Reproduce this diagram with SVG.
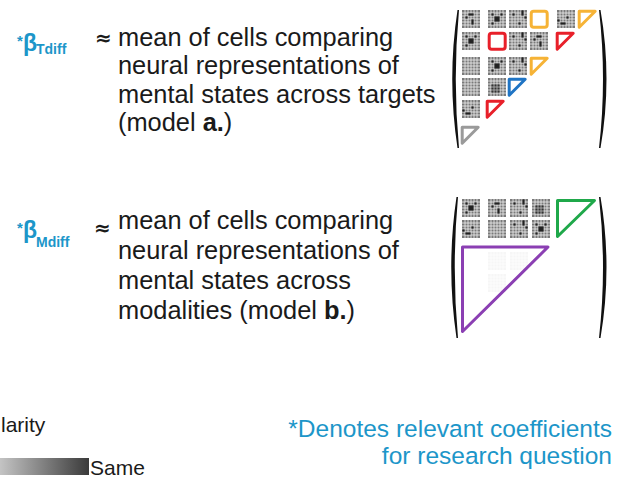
<svg xmlns="http://www.w3.org/2000/svg" xmlns:xlink="http://www.w3.org/1999/xlink" width="625" height="480" viewBox="0 0 625 480">
<style>
text{font-family:"Liberation Sans",Arial,sans-serif;}
.t{font-size:25.4px;fill:#1a1a1a;}
.teal{fill:#1c96c9;font-weight:bold;}
.approx{font-family:"DejaVu Sans",sans-serif;font-size:20px;fill:#1a1a1a;font-weight:bold;}
.note{font-size:24.5px;fill:#1c96c9;text-anchor:end;}
.o{fill:none;stroke-width:3;stroke-linejoin:round;}
.par{fill:#111;}
</style>
<defs>
<linearGradient id="grad" x1="0" x2="1" y1="0" y2="0">
<stop offset="0" stop-color="#c4c4c4"/>
<stop offset="1" stop-color="#3a3a3a"/>
</linearGradient>
<g id="gr">
<rect width="18" height="18" fill="#7a7a7a"/>
<path d="M3 0V18M6 0V18M9 0V18M12 0V18M15 0V18M0 3H18M0 6H18M0 9H18M0 12H18M0 15H18" stroke="#f0f0f0" stroke-width="0.8"/>
</g>
<g id="cA"><use href="#gr"/><g fill="#222"><rect x="6.4" y="3.4" width="5.2" height="2.2"/><rect x="3.4" y="6.4" width="2.2" height="2.2"/><rect x="9.4" y="9.4" width="2.2" height="5.2"/></g></g>
<g id="cB"><use href="#gr"/><g fill="#222"><rect x="3.4" y="3.4" width="2.2" height="2.2"/><rect x="6.4" y="6.4" width="5.2" height="5.2"/><rect x="12.4" y="3.4" width="2.2" height="2.2"/><rect x="3.4" y="12.4" width="2.2" height="2.2"/></g></g>
<g id="cC"><use href="#gr"/><g fill="#222"><rect x="12.4" y="0.4" width="2.2" height="5.2"/><rect x="9.4" y="12.4" width="2.2" height="2.2"/><rect x="15.4" y="6.4" width="2.2" height="2.2"/><rect x="3.4" y="3.4" width="2.2" height="2.2"/></g></g>
<g id="cD"><use href="#gr"/><g fill="#222"><rect x="0.4" y="9.4" width="2.2" height="2.2"/><rect x="3.4" y="12.4" width="5.2" height="2.2"/><rect x="9.4" y="6.4" width="2.2" height="2.2"/></g></g>
<g id="cE"><use href="#gr"/><g fill="#333"><rect x="3.4" y="6.4" width="8.2" height="8.2"/></g><path d="M6 6V15M9 6V15M3 9H12M3 12H12" stroke="#bbb" stroke-width="0.8"/></g>
<path id="tri" d="M0 0H16L0 16Z"/>
<rect id="sq" width="16" height="16" rx="2.5"/>
</defs>

<g id="beta-tdiff">
<text class="teal" x="17" y="46" font-size="15">*</text>
<text class="teal" x="23" y="50.5" font-size="23">β</text>
<text class="teal" x="36" y="54" font-size="14">Tdiff</text>
<text class="approx" x="95" y="45">≈</text>
</g>
<g id="text-a">
<text class="t" x="118" y="45.5">mean of cells comparing</text>
<text class="t" x="118" y="74">neural representations of</text>
<text class="t" x="118" y="102.5">mental states across targets</text>
<text class="t" x="118" y="131">(model <tspan font-weight="bold">a.</tspan>)</text>
</g>

<g id="matrix-a">
<path class="par" d="M457.5 10Q447 79 457.5 148L459 148Q452.5 79 459 10Z"/>
<path class="par" d="M600.5 10Q612.5 79 600.5 148L599 148Q607 79 599 10Z"/>
<use href="#cA" x="462" y="10"/><use href="#cB" x="488" y="10"/><use href="#cC" x="509" y="10"/><use href="#cD" x="557" y="10"/>
<use href="#cB" x="462" y="32"/><use href="#cC" x="509" y="32"/><use href="#cA" x="530" y="32"/>
<use href="#gr" x="462" y="57"/><use href="#cB" x="488" y="57"/><use href="#cC" x="509" y="57"/>
<use href="#gr" x="462" y="78"/><use href="#cE" x="488" y="78"/>
<use href="#cD" x="462" y="100"/>
<use href="#sq" class="o" x="531.2" y="11.2" stroke="#f6b336"/>
<use href="#tri" class="o" x="579.2" y="11.2" stroke="#f6b336"/>
<use href="#sq" class="o" x="489.2" y="33.2" stroke="#e8202a"/>
<use href="#tri" class="o" x="557.2" y="33.2" stroke="#e8202a"/>
<use href="#tri" class="o" x="531.2" y="58.2" stroke="#f6b336"/>
<use href="#tri" class="o" x="509.2" y="79.2" stroke="#1f74c4"/>
<use href="#tri" class="o" x="487.2" y="101.2" stroke="#e8202a"/>
<use href="#tri" class="o" x="462.2" y="127.2" stroke="#9a9a9a"/>
</g>

<g id="beta-mdiff">
<text class="teal" x="17" y="233" font-size="15">*</text>
<text class="teal" x="23" y="237.5" font-size="23">β</text>
<text class="teal" x="36" y="247" font-size="14">Mdiff</text>
<text class="approx" x="94" y="235">≈</text>
</g>
<g id="text-b">
<text class="t" x="118" y="228.5">mean of cells comparing</text>
<text class="t" x="118" y="258.5">neural representations of</text>
<text class="t" x="118" y="288.5">mental states across</text>
<text class="t" x="118" y="318.5">modalities (model <tspan font-weight="bold">b.</tspan>)</text>
</g>

<g id="matrix-b">
<path class="par" d="M456.5 197Q446 267 456.5 338L458 338Q451.5 267 458 197Z"/>
<path class="par" d="M600.5 197Q612.5 267 600.5 338L599 338Q607 267 599 197Z"/>
<use href="#cB" x="462" y="199"/><use href="#cA" x="488" y="199"/><use href="#cC" x="510" y="199"/><use href="#cE" x="532" y="199"/>
<use href="#cD" x="462" y="220"/><use href="#gr" x="488" y="220"/><use href="#cC" x="510" y="220"/><use href="#cB" x="532" y="220"/>
<g opacity="0.06">
<use href="#gr" x="488" y="252"/><use href="#gr" x="510" y="252"/><use href="#gr" x="488" y="274"/>
</g>
<path class="o" d="M557.5 200.5H594.5L557.5 236.5Z" stroke="#1fa84a"/>
<path class="o" d="M462.5 247H548L462.5 331.5Z" stroke="#8b3fb3"/>
</g>

<g id="legend">
<text x="1" y="432" font-size="21" fill="#1a1a1a">larity</text>
<rect x="0" y="458" width="89" height="17" fill="url(#grad)"/>
<text x="90" y="475" font-size="21" fill="#1a1a1a">Same</text>
</g>
<g id="note">
<text class="note" x="612" y="437">*Denotes relevant coefficients</text>
<text class="note" x="612" y="464">for research question</text>
</g>
</svg>
